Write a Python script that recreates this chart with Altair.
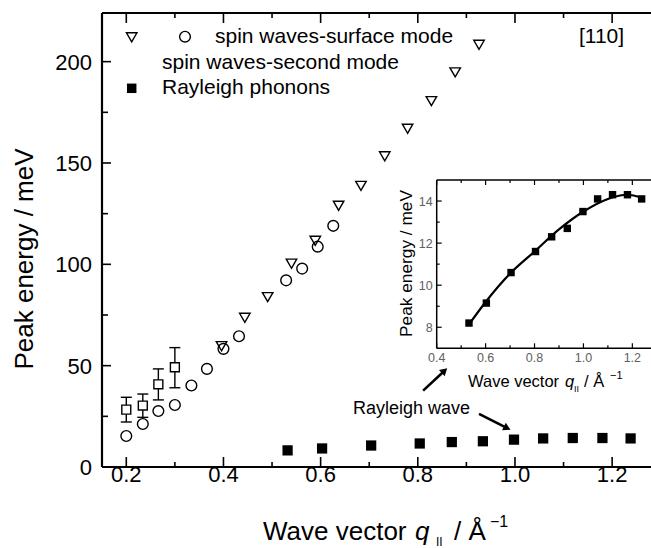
import altair as alt
import pandas as pd

FONT = "Liberation Sans"

# ---------------- data ----------------
surf_q = [0.396, 0.444, 0.491, 0.540, 0.589, 0.637, 0.683, 0.732, 0.779, 0.828, 0.877, 0.926]
surf_E = [59.6, 73.6, 83.8, 100.3, 111.6, 128.9, 138.7, 153.3, 166.9, 180.5, 194.7, 208.3]

circ_q = [0.200, 0.234, 0.266, 0.300, 0.334, 0.366, 0.400, 0.432, 0.529, 0.562, 0.594, 0.626]
circ_E = [15.3, 21.2, 27.6, 30.6, 40.2, 48.4, 58.3, 64.5, 92.1, 97.9, 108.7, 119.0]

sec_q = [0.200, 0.234, 0.266, 0.300]
sec_E = [28.3, 30.3, 40.8, 49.2]
sec_lo = [22.2, 24.5, 33.1, 39.1]
sec_hi = [34.4, 36.0, 48.4, 58.9]

ray_q = [0.532, 0.603, 0.704, 0.804, 0.870, 0.934, 0.998, 1.058, 1.119, 1.180, 1.238]
ray_E = [8.2, 9.15, 10.6, 11.6, 12.3, 12.7, 13.5, 14.1, 14.3, 14.3, 14.1]

fit_q = [0.53, 0.60, 0.70, 0.80, 0.90, 1.00, 1.10, 1.18, 1.24]
fit_E = [8.1, 9.2, 10.55, 11.6, 12.65, 13.5, 14.1, 14.3, 14.15]

main_x_major = [0.2, 0.4, 0.6, 0.8, 1.0, 1.2]
main_x_labels = ["0.2", "0.4", "0.6", "0.8", "1.0", "1.2"]
main_x_minor = [0.3, 0.5, 0.7, 0.9, 1.1]
main_y_major = [0, 50, 100, 150, 200]
main_y_labels = ["0", "50", "100", "150", "200"]
main_y_minor = [25, 75, 125, 175]

ins_x_major = [0.4, 0.6, 0.8, 1.0, 1.2]
ins_x_labels = ["0.4", "0.6", "0.8", "1.0", "1.2"]
ins_x_minor = [0.5, 0.7, 0.9, 1.1]
ins_y_major = [8, 10, 12, 14]
ins_y_labels = ["8", "10", "12", "14"]
ins_y_minor = [9, 11, 13]

# annotation arrows (data coordinates of the main plot)
arr_q0 = [0.811, 0.926]
arr_E0 = [37.7, 26.2]
arr_q1 = [0.855, 0.984]
arr_E1 = [47.5, 19.15]
arr_ang = [47.5, 116.8]

# ---------------- tables ----------------
surf = pd.DataFrame({"q": surf_q, "E": surf_E})
circ = pd.DataFrame({"q": circ_q, "E": circ_E})
sec = pd.DataFrame({"q": sec_q, "E": sec_E, "lo": sec_lo, "hi": sec_hi})
ray = pd.DataFrame({"q": ray_q, "E": ray_E})
fit = pd.DataFrame({"q": fit_q, "E": fit_E})
arrows = pd.DataFrame({"q0": arr_q0, "E0": arr_E0, "q1": arr_q1, "E1": arr_E1, "ang": arr_ang})
one = pd.DataFrame({"k": [0]})

W, H = 549, 454

xs = alt.Scale(domain=[0.15, 1.28], nice=False, zero=False)
ys = alt.Scale(domain=[0, 224], nice=False, zero=False)

# inset geometry (pixel range inside the main plot area)
IX0, IX1 = 334.7, 554.8
IY0, IY1 = 335.3, 167.0
ixs = alt.Scale(domain=[0.4, 1.3], range=[IX0, IX1], nice=False, zero=False)
iys = alt.Scale(domain=[7, 15], range=[IY0, IY1], nice=False, zero=False)


def X(field="q"):
    return alt.X(f"{field}:Q", scale=xs, axis=None)


def Y(field="E"):
    return alt.Y(f"{field}:Q", scale=ys, axis=None)


def IX(field="q"):
    return alt.X(f"{field}:Q", scale=ixs, axis=None)


def IY(field="E"):
    return alt.Y(f"{field}:Q", scale=iys, axis=None)


def tickdf(vals, labels=None):
    d = {"v": vals}
    if labels is not None:
        d["t"] = labels
    return pd.DataFrame(d)


def hrule(x0, x1, y, w):
    return alt.Chart(one).mark_rule(color="black", strokeWidth=w).encode(
        x=alt.value(x0), x2=alt.value(x1), y=alt.value(y))


def vrule(x, y0, y1, w):
    return alt.Chart(one).mark_rule(color="black", strokeWidth=w).encode(
        x=alt.value(x), y=alt.value(y0), y2=alt.value(y1))


# ---------------- main plot layers ----------------
tri = alt.Chart(surf).mark_point(shape="triangle-down", filled=False, color="black",
                                 size=110, strokeWidth=1.4, opacity=1).encode(x=X(), y=Y())
circles = alt.Chart(circ).mark_point(shape="circle", filled=False, color="black",
                                     size=115, strokeWidth=1.4, opacity=1).encode(x=X(), y=Y())
err = alt.Chart(sec).mark_rule(color="black", strokeWidth=1.4).encode(
    x=X(), y=Y("lo"), y2="hi:Q")
cap_lo = alt.Chart(sec).mark_tick(orient="horizontal", color="black", size=11,
                                  thickness=1.4, opacity=1).encode(x=X(), y=Y("lo"))
cap_hi = alt.Chart(sec).mark_tick(orient="horizontal", color="black", size=11,
                                  thickness=1.4, opacity=1).encode(x=X(), y=Y("hi"))
sq_open = alt.Chart(sec).mark_point(shape="square", filled=True, fill="white", stroke="black",
                                    size=80, strokeWidth=1.4, opacity=1).encode(x=X(), y=Y())
ray_main = alt.Chart(ray).mark_point(shape="square", filled=True, color="black",
                                     size=105, opacity=1).encode(x=X(), y=Y())

TW = 1.6
xt_major_b = alt.Chart(tickdf(main_x_major)).mark_rule(color="black", strokeWidth=TW).encode(
    x=X("v"), y=alt.value(H), y2=alt.value(H - 10))
xt_minor_b = alt.Chart(tickdf(main_x_minor)).mark_rule(color="black", strokeWidth=TW).encode(
    x=X("v"), y=alt.value(H), y2=alt.value(H - 5))
xt_major_t = alt.Chart(tickdf(main_x_major)).mark_rule(color="black", strokeWidth=TW).encode(
    x=X("v"), y=alt.value(0), y2=alt.value(10))
xt_minor_t = alt.Chart(tickdf(main_x_minor)).mark_rule(color="black", strokeWidth=TW).encode(
    x=X("v"), y=alt.value(0), y2=alt.value(5))
yt_major = alt.Chart(tickdf(main_y_major)).mark_rule(color="black", strokeWidth=TW).encode(
    y=Y("v"), x=alt.value(0), x2=alt.value(9))
yt_minor = alt.Chart(tickdf(main_y_minor)).mark_rule(color="black", strokeWidth=TW).encode(
    y=Y("v"), x=alt.value(0), x2=alt.value(6))

x_labels = alt.Chart(tickdf(main_x_major, main_x_labels)).mark_text(
    font=FONT, fontSize=22, align="center", baseline="alphabetic", color="black").encode(
    x=X("v"), y=alt.value(H + 15), text="t:N")
y_labels = alt.Chart(tickdf(main_y_major, main_y_labels)).mark_text(
    font=FONT, fontSize=22, align="right", baseline="alphabetic", dy=8, color="black").encode(
    y=Y("v"), x=alt.value(-10), text="t:N")

arrow_lines = alt.Chart(arrows).mark_rule(color="black", strokeWidth=2.6).encode(
    x=X("q0"), y=Y("E0"), x2="q1:Q", y2="E1:Q")
arrow_heads = alt.Chart(arrows).mark_point(shape="triangle-up", filled=True, color="black",
                                           size=70, opacity=1).encode(
    x=X("q1"), y=Y("E1"), angle=alt.Angle("ang:Q", scale=None))

main = alt.layer(
    vrule(0, 0, H, 2.2), hrule(0, W, H, 2.2), hrule(0, W, 0, 2.2),
    xt_major_b, xt_minor_b, xt_major_t, xt_minor_t, yt_major, yt_minor,
    x_labels, y_labels,
    tri, circles, err, cap_lo, cap_hi, sq_open, ray_main,
    arrow_lines, arrow_heads,
)

# ---------------- inset layers ----------------
ITW = 1.2
ins_pts = alt.Chart(ray).mark_point(shape="square", filled=True, color="black",
                                    size=55, opacity=1).encode(x=IX(), y=IY())
ins_fit = alt.Chart(fit).mark_line(color="black", strokeWidth=2.2,
                                   interpolate="monotone").encode(x=IX(), y=IY())
ixt_major_b = alt.Chart(tickdf(ins_x_major)).mark_rule(color="black", strokeWidth=ITW).encode(
    x=IX("v"), y=alt.value(IY0), y2=alt.value(IY0 - 5))
ixt_minor_b = alt.Chart(tickdf(ins_x_minor)).mark_rule(color="black", strokeWidth=ITW).encode(
    x=IX("v"), y=alt.value(IY0), y2=alt.value(IY0 - 3))
ixt_major_t = alt.Chart(tickdf(ins_x_major)).mark_rule(color="black", strokeWidth=ITW).encode(
    x=IX("v"), y=alt.value(IY1), y2=alt.value(IY1 + 5))
ixt_minor_t = alt.Chart(tickdf(ins_x_minor)).mark_rule(color="black", strokeWidth=ITW).encode(
    x=IX("v"), y=alt.value(IY1), y2=alt.value(IY1 + 3))
iyt_major = alt.Chart(tickdf(ins_y_major)).mark_rule(color="black", strokeWidth=ITW).encode(
    y=IY("v"), x=alt.value(IX0), x2=alt.value(IX0 + 5))
iyt_minor = alt.Chart(tickdf(ins_y_minor)).mark_rule(color="black", strokeWidth=ITW).encode(
    y=IY("v"), x=alt.value(IX0), x2=alt.value(IX0 + 3))
ix_labels = alt.Chart(tickdf(ins_x_major, ins_x_labels)).mark_text(
    font=FONT, fontSize=12.5, align="center", baseline="alphabetic", color="#606060").encode(
    x=IX("v"), y=alt.value(IY0 + 13.7), text="t:N")
iy_labels = alt.Chart(tickdf(ins_y_major, ins_y_labels)).mark_text(
    font=FONT, fontSize=12.5, align="right", baseline="alphabetic", dy=4.5,
    color="#606060").encode(y=IY("v"), x=alt.value(IX0 - 4), text="t:N")

inset = alt.layer(
    vrule(IX0, IY1, IY0, 1.5), hrule(IX0, IX1, IY0, 1.5), hrule(IX0, IX1, IY1, 1.5),
    ixt_major_b, ixt_minor_b, ixt_major_t, ixt_minor_t, iyt_major, iyt_minor,
    ix_labels, iy_labels, ins_fit, ins_pts,
)


# ---------------- text annotations ----------------
def label(txt, x, y, size, align="left", baseline="alphabetic", angle=0, style="normal",
          color="black"):
    props = dict(text=txt, font=FONT, fontSize=size, align=align, baseline=baseline,
                 color=color, fontStyle=style)
    if angle:
        props["angle"] = angle
    return alt.Chart(one).mark_text(**props).encode(x=alt.value(x), y=alt.value(y))


def sym(shape, x, y, size, filled):
    if filled:
        m = alt.Chart(one).mark_point(shape=shape, filled=True, color="black", size=size, opacity=1)
    else:
        m = alt.Chart(one).mark_point(shape=shape, filled=False, color="black", size=size,
                                      strokeWidth=1.4, opacity=1)
    return m.encode(x=alt.value(x), y=alt.value(y))


annot = [
    # main axis titles
    label("Peak energy / meV", -69, 246, 26, align="center", angle=270),
    label("Wave vector ", 161, 527, 26),
    label("q", 313, 527, 26, style="italic"),
    label("II", 334, 533, 12),
    label("/ Å", 352, 527, 26),
    label("\u22121", 388, 514, 16),
    # inset axis titles
    label("Peak energy / meV", 310, 250.5, 17.3, align="center", angle=270),
    label("Wave vector", 366, 373.7, 16.5),
    label("q", 463, 373.7, 16.5, style="italic"),
    label("II", 472, 378.7, 9),
    label("/ Å", 482, 373.7, 16.5),
    label("\u22121", 508, 366, 11),
    # legend
    sym("triangle-down", 29.7, 24.3, 110, False),
    sym("circle", 83, 23.7, 115, False),
    label("spin waves-surface mode", 113, 24, 21, baseline="middle"),
    label("spin waves-second mode", 60, 50, 21, baseline="middle"),
    sym("square", 29.7, 75.3, 90, True),
    label("Rayleigh phonons", 60, 75, 21, baseline="middle"),
    label("[110]", 499.5, 24, 21, align="center", baseline="middle"),
    label("Rayleigh wave", 251, 396, 18, baseline="middle"),
]

chart = alt.layer(main, inset, *annot).resolve_scale(
    x="independent", y="independent"
).properties(
    width=W, height=H,
    padding={"left": 102, "top": 13, "right": 0, "bottom": 81},
    autosize=alt.AutoSizeParams(type="none"),
    background="white",
).configure_view(stroke=None)

chart.save("out.html", embed_options={"renderer": "svg", "actions": False})
